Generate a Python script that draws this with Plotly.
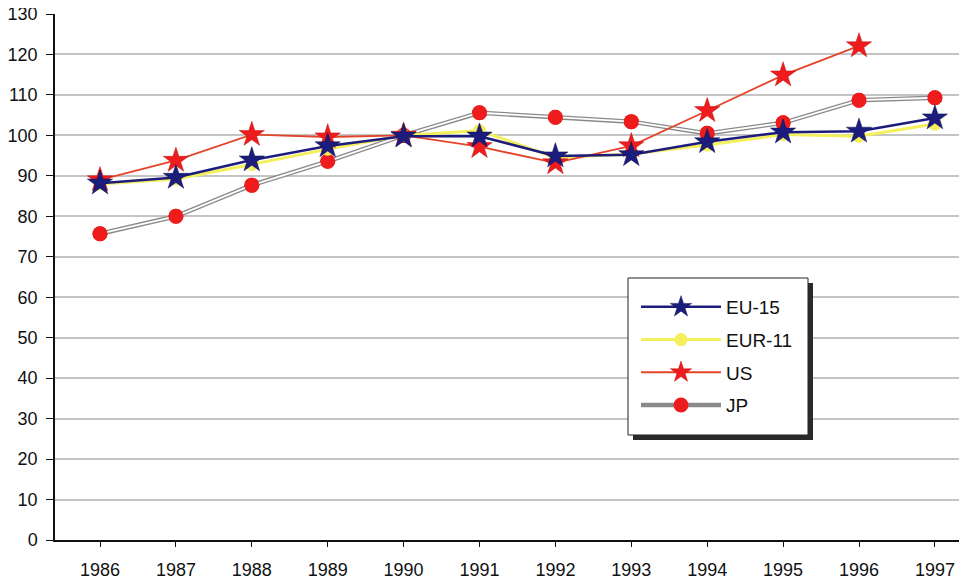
import plotly.graph_objects as go

years = ["1986", "1987", "1988", "1989", "1990", "1991",
         "1992", "1993", "1994", "1995", "1996", "1997"]

eu15 = [88.2, 89.6, 93.9, 97.4, 99.8, 99.8, 94.9, 95.2, 98.4, 100.8, 101.0, 104.3]
eur11 = [88.0, 89.2, 92.8, 96.6, 100.0, 101.2, 94.5, 95.4, 97.6, 100.2, 99.8, 102.8]
us = [89.0, 93.8, 100.2, 99.6, 100.0, 97.2, 93.2, 97.4, 106.1, 114.9, 122.1, None]
jp = [75.7, 80.0, 87.7, 93.6, 100.0, 105.6, 104.5, 103.4, 100.5, 103.1, 108.7, 109.3]

y_ticks = list(range(0, 131, 10))

navy = "#1c1c7c"
yellow = "#f4ef5c"
red = "#ee1c1c"
red_line = "#e2452a"

# page has an 8px body margin, so the figure is shifted by OFF
OFF = 8
W, H = 959, 575
# plot area in page pixels
L, R, T, B = 55, OFF + W, 14, 540


def px_x(p):
    return (p - L) / (R - L)


def px_y(p):
    return (B - p) / (B - T)


fig = go.Figure()

# JP: hollow (double) line -> grey wide line, white thin line on top, then markers
fig.add_trace(go.Scatter(x=years, y=jp, name="JP", mode="lines+markers",
                         line=dict(color="#8a8a8a", width=4.5),
                         marker=dict(symbol="circle", size=15, color=red, line=dict(width=0)),
                         legendgroup="jp", legendrank=4))
fig.add_trace(go.Scatter(x=years, y=jp, mode="lines", showlegend=False,
                         line=dict(color="white", width=1.8), hoverinfo="skip"))
fig.add_trace(go.Scatter(x=years, y=jp, mode="markers", showlegend=False,
                         marker=dict(symbol="circle", size=15, color=red, line=dict(width=0)),
                         hoverinfo="skip"))

fig.add_trace(go.Scatter(x=years, y=eur11, name="EUR-11", mode="lines+markers",
                         line=dict(color=yellow, width=3),
                         marker=dict(symbol="circle", size=13, color=yellow, line=dict(width=0)),
                         legendgroup="eur11", legendrank=2))

fig.add_trace(go.Scatter(x=years, y=us, name="US", mode="lines+markers",
                         line=dict(color=red_line, width=1.8),
                         marker=dict(symbol="star", size=19, color=red,
                                     line=dict(color="#c01010", width=0.5)),
                         legendgroup="us", legendrank=3))

fig.add_trace(go.Scatter(x=years, y=eu15, name="EU-15", mode="lines+markers",
                         line=dict(color=navy, width=2.5),
                         marker=dict(symbol="star", size=19, color=navy,
                                     line=dict(color="#101050", width=0.5)),
                         legendgroup="eu15", legendrank=1))

# legend box with drop shadow (drawn as shapes, legend itself is transparent)
fig.add_shape(type="rect", xref="paper", yref="paper",
              x0=px_x(633), x1=px_x(813), y0=px_y(440), y1=px_y(283),
              fillcolor="#2a2a2a", line=dict(width=0), layer="above")
fig.add_shape(type="rect", xref="paper", yref="paper",
              x0=px_x(628), x1=px_x(808), y0=px_y(435), y1=px_y(278),
              fillcolor="white", line=dict(color="#222222", width=1), layer="above")

fig.update_layout(
    width=W, height=H,
    margin=dict(l=L - OFF, r=OFF + W - R, t=T - OFF, b=OFF + H - B),
    paper_bgcolor="white", plot_bgcolor="white",
    font=dict(family="Liberation Sans, Arial, sans-serif", size=18, color="#111111"),
    showlegend=True,
    legend=dict(x=px_x(636), y=px_y(288), xanchor="left", yanchor="top",
                bgcolor="rgba(0,0,0,0)", borderwidth=0,
                font=dict(family="Liberation Sans, Arial, sans-serif", size=19),
                traceorder="grouped", tracegroupgap=5, itemwidth=80),
    xaxis=dict(type="category", range=[(L - 100) / 75.9, (R - 100) / 75.9],
               showgrid=False, automargin=False, ticklabeloverflow="allow",
               showline=True, linecolor="#111111", linewidth=1.5,
               ticks="outside", ticklen=5, tickcolor="#111111",
               ticklabelstandoff=8, zeroline=False),
    yaxis=dict(range=[0, 130], tickvals=y_ticks, showgrid=True, automargin=False,
               ticklabeloverflow="allow",
               gridcolor="#c4c4c4", gridwidth=1.5,
               showline=True, linecolor="#111111", linewidth=1.5,
               ticks="outside", ticklen=7, tickcolor="#111111",
               ticklabelstandoff=5, zeroline=False),
)

fig.write_html("out.html")
